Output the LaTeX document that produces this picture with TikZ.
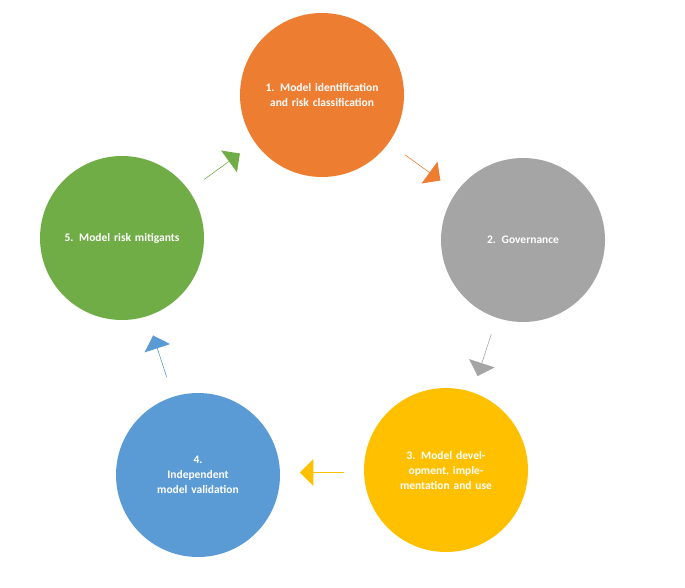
\documentclass[tikz,border=0pt]{standalone}
\usepackage{fontspec}
\setmainfont{Carlito}
\usetikzlibrary{shapes.arrows,calc}
\begin{document}
\begin{tikzpicture}[
    x=1pt, y=-1pt,
    stage/.style={circle, draw=none, minimum size=164pt, text width=118pt, align=center, text=white, font=\fontsize{11.5}{15}\selectfont\bfseries},
    cyclearrow/.style={single arrow, draw=none, minimum width=27pt, single arrow head extend=9pt, minimum height=44pt, inner sep=0pt}
]
    \useasboundingbox (0,0) rectangle (685,587);
    % Stages
    \node[stage, fill={rgb,255:red,237;green,125;blue,49}] (ident) at (322,95) {1. Model identification and risk classification};
    \node[stage, fill={rgb,255:red,165;green,165;blue,165}] (gov) at (523,240) {2. Governance};
    \node[stage, fill={rgb,255:red,255;green,192;blue,0}] (devel) at (446,470) {3. Model development, implementation and use};
    \node[stage, fill={rgb,255:red,91;green,155;blue,213}] (valid) at (198,475) {4.\\Independent model validation};
    \node[stage, fill={rgb,255:red,112;green,173;blue,71}] (mitig) at (122,238) {5. Model risk mitigants};

    % Cycle arrows
    \node[cyclearrow, fill={rgb,255:red,237;green,125;blue,49}, rotate=-36] (a12) at ($(ident)!0.5!(gov)$) {};
    \node[cyclearrow, fill={rgb,255:red,165;green,165;blue,165}, rotate=-108] (a23) at ($(gov)!0.5!(devel)$) {};
    \node[cyclearrow, fill={rgb,255:red,255;green,192;blue,0}, rotate=180] (a34) at ($(devel)!0.5!(valid)$) {};
    \node[cyclearrow, fill={rgb,255:red,91;green,155;blue,213}, rotate=108] (a45) at ($(valid)!0.5!(mitig)$) {};
    \node[cyclearrow, fill={rgb,255:red,112;green,173;blue,71}, rotate=36] (a51) at ($(mitig)!0.5!(ident)$) {};
\end{tikzpicture}
\end{document}
